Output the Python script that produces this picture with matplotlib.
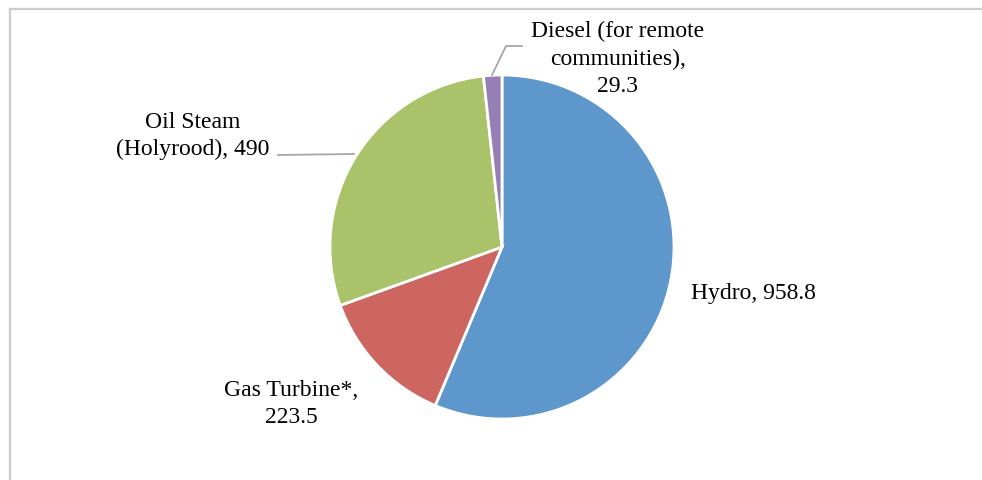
import matplotlib.pyplot as plt
from matplotlib.lines import Line2D

# generation capacity (MW) by source
labels = ["Hydro", "Gas Turbine*", "Oil Steam\n(Holyrood)", "Diesel (for remote\ncommunities)"]
values = [958.8, 223.5, 490, 29.3]
colors = ["#5E97CB", "#CD6660", "#AAC36B", "#957FB5"]

W, H = 982, 481
cx, cy, R = 502, 248, 172  # pie centre / radius in pixels

fig = plt.figure(figsize=(W / 100, H / 100), dpi=100)
ax = fig.add_axes([(cx - R) / W, (H - cy - R) / H, 2 * R / W, 2 * R / H])
ax.pie(values, colors=colors, startangle=90, counterclock=False, radius=1,
       wedgeprops=dict(edgecolor="white", linewidth=2))
ax.set_xlim(-1, 1)
ax.set_ylim(-1, 1)
ax.set_aspect("equal")
ax.axis("off")

def px(x, y):
    return (x - cx) / R, (cy - y) / R

font = dict(family="Liberation Serif", fontsize=17, color="black", linespacing=1.42)

texts = [
    (labels[0] + ", " + str(values[0]), (691, 293), "left"),
    ("Gas Turbine*,\n" + str(values[1]), (291, 404), "center"),
    (labels[2] + ", " + str(values[2]), (193, 136), "center"),
    (labels[3] + ",\n" + str(values[3]), (618, 59), "center"),
]
for t, (x, y), ha in texts:
    ax.text(*px(x, y), t, ha=ha, va="center", clip_on=False, **font)

# leader lines
lc = "#A6A6A6"
for pts in ([(492, 76), (506, 47), (522, 47)], [(278, 156), (354, 155)]):
    xs, ys = zip(*[px(*p) for p in pts])
    ax.add_line(Line2D(xs, ys, color=lc, lw=1.3, clip_on=False))

# chart frame (top and left visible)
fc = "#CCCCCC"
fig.add_artist(Line2D([9.5 / W, 1.01], [1 - 9.5 / H] * 2, color=fc, lw=1.6))
fig.add_artist(Line2D([9.5 / W] * 2, [-0.01, 1 - 9.5 / H], color=fc, lw=1.6))

fig.savefig("out.png", dpi=100)
